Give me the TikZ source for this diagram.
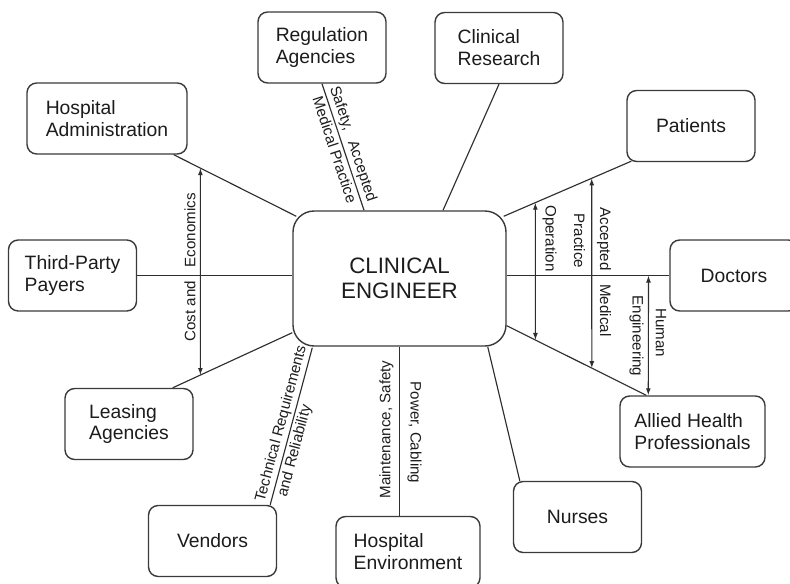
\documentclass[tikz,border=0pt]{standalone}
\usepackage{fontspec}
\setmainfont{Liberation Sans}
\usetikzlibrary{arrows.meta, calc, backgrounds}
\usepackage{xcolor}
\definecolor{cLine}  {HTML}{2E2E2E}
\definecolor{cBorder}{HTML}{3A3A3A}
\definecolor{cText}  {HTML}{1C1C1C}
\tikzset{
  party/.style={draw=cBorder, fill=white, rounded corners=5.5pt, line width=0.8pt,
                align=left, text=cText, inner sep=0pt,
                font=\fontsize{11}{12.5}\selectfont,
                minimum width=25.6mm, minimum height=14.2mm},
  core/.style ={party, rounded corners=12pt, align=center,
                font=\fontsize{12.7}{14.3}\selectfont,
                minimum width=42.6mm, minimum height=27mm},
  link/.style ={draw=cLine, line width=0.65pt},
  twoway/.style={link, {Latex[length=4pt,width=2.8pt]}-{Latex[length=4pt,width=2.8pt]}},
  lbl/.style  ={font=\fontsize{8.6}{10}\selectfont, text=cText, inner sep=1.4pt},
}

\begin{document}
\begin{tikzpicture}[x=0.2mm, y=-0.2mm]
\useasboundingbox (0,0) rectangle (790,584);

% ── Nodes ─────────────────────────────────────────────────────────────────────
\node[core] (ce) at (399.5, 278.5) {CLINICAL\\ENGINEER};

\node[party] (reg) at (322, 47.5) {Regulation\\Agencies};
\node[party] (res) at (499, 48)   {Clinical\\Research};
\node[party] (pat) at (691, 126)  {Patients};
\node[party] (doc) at (734, 275.5) {Doctors};
\node[party, minimum width=29mm] (ahp) at (692.5, 431.5) {Allied Health\\Professionals};
\node[party] (nur) at (577.5, 517) {Nurses};
\node[party, minimum width=28.8mm] (env) at (408, 552) {Hospital\\Environment};
\node[party] (ven) at (212.5, 541) {Vendors};
\node[party] (lea) at (129, 424)   {Leasing\\Agencies};
\node[party] (tpp) at (72.5, 275.5) {Third-Party\\Payers};
\node[party, minimum width=32mm] (adm) at (107, 118.5) {Hospital\\Administration};

% ── Spokes (behind the boxes) ─────────────────────────────────────────────────
\begin{scope}[on background layer]
  % left side
  \draw[link] ($(adm.south east)+(-14,0)$) -- ($(ce.north west)+(4,6)$)
    coordinate[pos=0.2177] (costtop);
  \draw[link] (tpp.east) -- (tpp.east -| ce.west);
  \draw[link] ($(lea.north east)+(-21,0)$) -- ($(ce.south west)+(0,-14)$)
    coordinate[pos=0.2314] (costbot);
  \draw[link] ($(ven.north east)+(-7,0)$) -- ($(ce.south west)+(20,1)$)
    node[lbl, sloped, above, pos=0.5]  {Technical Requirements}
    node[lbl, sloped, below, pos=0.36] {and Reliability};

  % top
  \draw[link] (reg.south) -- ($(ce.north)+(-35.5,0)$)
    node[lbl, sloped, above, pos=0.5] {Safety,\hspace{4pt} Accepted}
    node[lbl, sloped, below, pos=0.5] {Medical Practice};
  \draw[link] ($(ce.north)+(43.5,0)$) -- (res.south);

  % right side
  \draw[link] ($(ce.north east)+(-3,6)$) -- ($(pat.south west)+(5,-1)$)
    coordinate[pos=0.248] (optop)
    coordinate[pos=0.6899] (amptop);
  \draw[link] (ce.east |- doc.west) -- (doc.west)
    coordinate[pos=0.872] (hetop);
  \draw[link] ($(ce.south east)+(0,-21)$) -- ($(ahp.north west)+(27,0)$)
    coordinate[pos=0.2057] (opbot)
    coordinate[pos=0.6099] (ampbot);
  \coordinate (hebot) at ($(ahp.north west)+(29,0)$);

  % bottom
  \draw[link] ($(ce.south east)+(-19,0)$) -- ($(nur.north west)+(7,0)$);
  \draw[link] (ce.south) -- (ce.south |- env.north);
\end{scope}

% ── Two-way arrows ────────────────────────────────────────────────────────────
\draw[twoway] (costtop) -- (costbot);
\draw[twoway] (optop) -- (opbot);
\draw[twoway] (amptop) -- (ampbot);
\draw[twoway] (hetop) -- (hebot);

% ── Labels ────────────────────────────────────────────────────────────────────
\node[lbl, rotate=90]  at (190, 267.5)   {Cost and\hspace{5.5pt} Economics};
\node[lbl, rotate=-90] at (549.5, 238.5) {Operation};
\node[lbl, rotate=-90] at (604, 272)     {Accepted\hspace{5.5pt} Medical};
\node[lbl, rotate=-90] at (579.5, 241)   {Practice};
\node[lbl, rotate=-90] at (661, 333)     {Human};
\node[lbl, rotate=-90] at (636.5, 336)   {Engineering};
\node[lbl, rotate=90]  at (386.5, 429.5) {Maintenance, Safety};
\node[lbl, rotate=-90] at (414.5, 432.5) {Power, Cabling};

\end{tikzpicture}
\end{document}
